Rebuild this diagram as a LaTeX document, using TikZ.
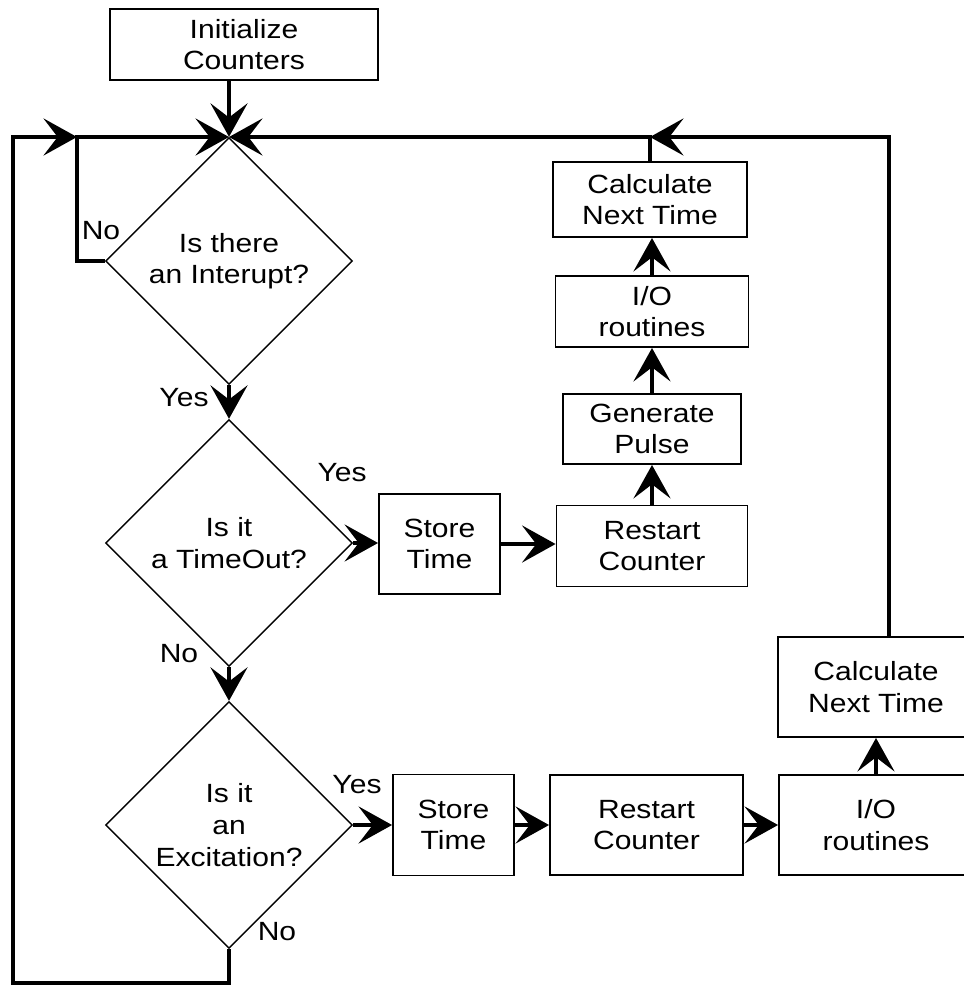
\documentclass[tikz,border=0pt]{standalone}
\usepackage{fontspec}
\setmainfont{Liberation Sans}[FakeStretch=1.14]
\usetikzlibrary{shapes.geometric,arrows.meta}

\begin{document}
\begin{tikzpicture}
    [x=0.02cm, y=-0.02cm,
    every node/.style={font=\fontsize{15}{18}\selectfont, align=center, inner sep=0pt},
    process/.style={draw, line width=1.1pt},
    decision/.style={draw, diamond, line width=0.8pt, minimum width=4.94cm, minimum height=4.94cm},
    flow/.style={line width=2.8pt, -{Stealth[length=19pt, width=21pt, inset=8pt]}},
    loop/.style={line width=2.8pt}]
    \path[fill=white] (0,0) rectangle (963,986);
    \useasboundingbox (0,0) rectangle (963,986);

    % main column of tests
    \node[process, minimum width=5.36cm, minimum height=1.42cm] (init) at (244,44.5) {Initialize\\Counters};
    \coordinate (top) at (229,137);
    \node[decision] (isint) at (229,261) {Is there\\an Interupt?};
    \node[decision] (istime) at (229,543) {Is it\\a TimeOut?};
    \node[decision] (isexc) at (229,825) {Is it\\an\\Excitation?};

    \draw[flow] (init.south -| top) -- (isint.north);
    \draw[flow] (isint.south) -- (istime.north);
    \draw[flow] (istime.south) -- (isexc.north);

    % timeout branch
    \node[process, minimum width=2.42cm, minimum height=2cm] (store1) at (439.5,544) {Store\\Time};
    \node[process, minimum width=3.82cm, minimum height=1.62cm] (restart1) at (652,546) {Restart\\Counter};
    \node[process, minimum width=3.56cm, minimum height=1.4cm] (pulse) at (652,429) {Generate\\Pulse};
    \node[process, minimum width=3.86cm, minimum height=1.42cm] (io1) at (652,311.5) {I/O\\routines};
    \node[process, minimum width=3.88cm, minimum height=1.5cm] (next1) at (650,199.5) {Calculate\\Next Time};

    \draw[flow] (istime.east) -- (istime.east -| store1.west);
    \draw[flow] (store1.east) -- (store1.east -| restart1.west);
    \draw[flow] (restart1.north) -- (pulse.south);
    \draw[flow] (pulse.north) -- (io1.south);
    \draw[flow] (io1.north) -- (io1.north |- next1.south);

    % excitation branch
    \node[process, minimum width=2.42cm, minimum height=2.02cm] (store2) at (453.5,825) {Store\\Time};
    \node[process, minimum width=3.86cm, minimum height=2cm] (restart2) at (646.5,825) {Restart\\Counter};
    \node[process, minimum width=3.88cm, minimum height=2cm] (io2) at (876,825) {I/O\\routines};
    \node[process, minimum width=3.92cm, minimum height=2cm] (next2) at (876,687) {Calculate\\Next Time};

    \draw[flow] (isexc.east) -- (store2.west);
    \draw[flow] (store2.east) -- (restart2.west);
    \draw[flow] (restart2.east) -- (io2.west);
    \draw[flow] (io2.north) -- (next2.south);

    % loops back to the top
    \coordinate (rt) at (889,137);
    \coordinate (mid) at (650,137);
    \coordinate (lc) at (77,137);
    \coordinate (bl) at (13,983);
    \draw[flow] (next2.north -| rt) -- (rt) -- (mid);
    \draw[flow] (next1.north) -- (mid) -- (top);
    \draw[flow] (isint.west) -- (isint.west -| lc) -- (lc) -- (top);
    \draw[flow] (isexc.south) -- (isexc.south |- bl) -- (bl) -- (bl |- lc) -- (lc);

    % yes / no labels
    \node (no1) at (101,231) {No};
    \node (yes1) at (184,398) {Yes};
    \node (yes2) at (342,473) {Yes};
    \node (no2) at (179,654) {No};
    \node (yes3) at (357,785) {Yes};
    \node (no3) at (277,932) {No};
\end{tikzpicture}
\end{document}
